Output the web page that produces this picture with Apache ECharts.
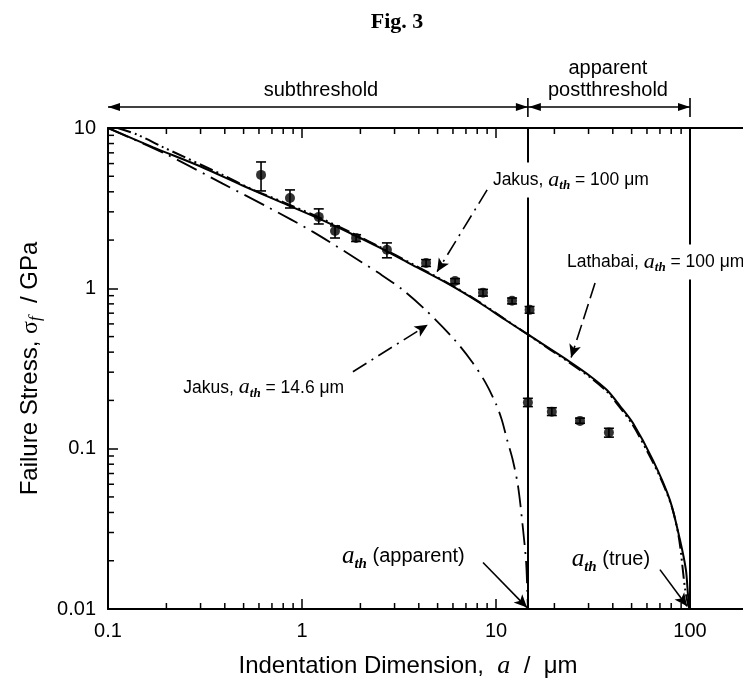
<!DOCTYPE html>
<html>
<head>
<meta charset="utf-8">
<script src="https://cdn.jsdelivr.net/npm/echarts@6.0.0/dist/echarts.min.js"></script>
<style>
  html, body { margin: 0; padding: 0; background: #fff; }
  #chart { width: 743px; height: 690px; }
</style>
</head>
<body>
<div id="chart"></div>
<script>
// measured points, failure stress (GPa) vs indentation size (um)
const ptsX  = [0.615, 0.867, 1.22, 1.48, 1.90, 2.74, 4.36, 6.15, 8.57, 12.1, 14.9, 14.6, 19.4, 27.1, 38.2];
const ptsY  = [5.1, 3.66, 2.79, 2.28, 2.06, 1.74, 1.44, 1.11, 0.94, 0.836, 0.734, 0.194, 0.170, 0.149, 0.126];
const errLo = [4.05, 3.17, 2.52, 2.06, 1.96, 1.55, 1.37, 1.07, 0.895, 0.80, 0.70, 0.183, 0.161, 0.144, 0.118];
const errHi = [6.14, 4.11, 3.13, 2.45, 2.16, 1.92, 1.51, 1.15, 0.985, 0.87, 0.77, 0.206, 0.180, 0.155, 0.134];

// model curves
const lathabai = [
  [0.1, 10], [0.17, 7.6], [0.3, 5.75], [0.5, 4.35], [0.8, 3.4], [1.2, 2.75], [1.9, 2.12],
  [2.5, 1.8], [3.7, 1.4], [5.8, 1.05], [8.27, 0.81], [11.1, 0.639], [15.0, 0.505], [19.0, 0.419],
  [24.1, 0.347], [30.5, 0.284], [37.3, 0.232], [43.6, 0.1845], [50.8, 0.1445], [64.4, 0.0849],
  [78.8, 0.0478], [88.8, 0.0269], [95.3, 0.0175], [97.7, 0.0122], [100, 0.01]
];
const jakus100 = [
  [0.112, 10], [0.141, 9.1], [0.192, 7.6], [0.39, 5.1], [0.54, 4.2], [0.8, 3.45], [1.2, 2.8],
  [1.9, 2.15], [2.5, 1.82], [3.7, 1.42], [5.8, 1.06], [8.3, 0.815], [11, 0.648], [14.6, 0.515],
  [19, 0.415], [24, 0.343], [30.5, 0.279], [37.3, 0.227], [43.6, 0.18], [50.8, 0.14], [60, 0.097],
  [67.6, 0.073], [75, 0.055], [81.7, 0.041], [88, 0.027], [94.2, 0.0135], [98, 0.0105], [100, 0.01]
];
const jakus146 = [
  [0.1, 10], [0.2, 6.85], [0.39, 4.5], [0.67, 3.2], [1.14, 2.25], [2.04, 1.45], [2.5, 1.24],
  [3.3, 0.98], [4.3, 0.74], [6.0, 0.49], [7.5, 0.35], [8.8, 0.26], [10.0, 0.19], [10.7, 0.152],
  [11.4, 0.114], [12.2, 0.085], [13.0, 0.058], [13.8, 0.031], [14.3, 0.0195], [14.5, 0.013], [14.6, 0.01]
];

// thresholds (vertical lines)
const thresholds = [14.6, 100];

// tick labels
const xTicks = [0.1, 1, 10, 100, 1000];
const xTickText = ['0.1', '1', '10', '100', '1000'];
const yTicks = [0.01, 0.1, 1, 10];
const yTickText = ['0.01', '0.1', '1', '10'];
const xMinor = [0.2, 0.3, 0.4, 0.5, 0.6, 0.7, 0.8, 0.9, 2, 3, 4, 5, 6, 7, 8, 9,
  20, 30, 40, 50, 60, 70, 80, 90, 200, 300, 400, 500, 600, 700, 800, 900];
const yMinor = [0.02, 0.03, 0.04, 0.05, 0.06, 0.07, 0.08, 0.09, 0.2, 0.3, 0.4, 0.5, 0.6, 0.7, 0.8, 0.9,
  2, 3, 4, 5, 6, 7, 8, 9];

const SANS = "'Liberation Sans', Arial, Helvetica, sans-serif";
const SERIF = "'Liberation Serif', 'Times New Roman', serif";
// the figure is cropped on the right: the axis runs on past the window to 1000
const GRID = { left: 108, top: 128, width: 776, height: 481, outerBoundsMode: 'none', containLabel: false };

let pick = (ticks, texts) => (v) => {
  let i = ticks.findIndex(t => Math.abs(Math.log10(t) - Math.log10(v)) < 1e-6);
  return i >= 0 ? texts[i] : '';
};

let axisCommon = {
  axisLine: { lineStyle: { color: '#000', width: 2 } },
  axisTick: { inside: true, length: 10, lineStyle: { color: '#000', width: 1.5 } },
  splitLine: { show: false },
  minorTick: { show: false }
};

let chart = echarts.init(document.getElementById('chart'), null, { renderer: 'canvas' });

let option = {
  animation: false,
  backgroundColor: '#fff',
  grid: GRID,
  xAxis: [
    Object.assign({
      type: 'log', min: 0.1, max: 1000, position: 'bottom',
      axisLabel: { color: '#000', fontSize: 20, fontFamily: SANS, margin: 12, formatter: pick(xTicks, xTickText) }
    }, axisCommon),
    Object.assign({
      type: 'log', min: 0.1, max: 1000, position: 'top',
      axisLabel: { show: false }
    }, axisCommon)
  ],
  yAxis: Object.assign({
    type: 'log', min: 0.01, max: 10,
    axisLabel: { color: '#000', fontSize: 20, fontFamily: SANS, margin: 12, formatter: pick(yTicks, yTickText) },
    name: 'Failure Stress, {s|σ}{f|f}  / GPa',
    nameLocation: 'middle',
    nameGap: 64,
    nameRotate: 90,
    nameTextStyle: {
      color: '#000', fontSize: 24, fontFamily: SANS,
      rich: {
        s: { fontSize: 24, fontFamily: SERIF, color: '#000' },
        f: { fontSize: 17, fontFamily: SERIF, fontStyle: 'italic', color: '#000', padding: [10, 0, 0, 0] }
      }
    }
  }, axisCommon),
  series: [
    {
      name: 'Lathabai',
      type: 'line',
      data: lathabai,
      showSymbol: false,
      smooth: 0.3,
      lineStyle: { color: '#000', width: 2 },
      z: 3,
      markLine: {
        silent: true,
        symbol: 'none',
        label: { show: false },
        lineStyle: { color: '#000', width: 2, type: 'solid' },
        data: thresholds.map(v => ({ xAxis: v }))
      }
    },
    {
      name: 'Jakus 100',
      type: 'line',
      data: jakus100,
      showSymbol: false,
      smooth: 0.3,
      lineStyle: { color: '#000', width: 2, type: [14, 4, 2, 4, 2, 4] },
      z: 3
    },
    {
      name: 'Jakus 14.6',
      type: 'line',
      data: jakus146,
      showSymbol: false,
      smooth: 0.3,
      lineStyle: { color: '#000', width: 1.8, type: [22, 7, 2, 7] },
      z: 3,
      markLine: {
        silent: true,
        symbol: ['none', 'arrow'],
        symbolSize: [9, 13],
        label: { show: false },
        lineStyle: { color: '#000', width: 1.6, type: 'solid' },
        data: [
          [{ coord: [9.0, 4.11], lineStyle: { type: [16, 6, 2, 6] } }, { coord: [4.97, 1.27] }],
          [{ coord: [32.4, 1.08], lineStyle: { type: [16, 6] } }, { coord: [24.4, 0.37] }],
          [{ coord: [1.83, 0.302], lineStyle: { type: [16, 6, 2, 6] } }, { coord: [4.45, 0.593] }],
          [{ coord: [8.57, 0.0195] }, { coord: [14.45, 0.0102] }],
          [{ coord: [70.0, 0.0176] }, { coord: [96.6, 0.0104] }]
        ]
      }
    },
    {
      name: 'err',
      type: 'custom',
      data: ptsX.map((x, i) => [x, errLo[i], errHi[i]]),
      encode: { x: 0, y: [1, 2] },
      z: 4,
      renderItem: (params, api) => {
        let lo = api.coord([api.value(0), api.value(1)]);
        let hi = api.coord([api.value(0), api.value(2)]);
        let st = { stroke: '#000', lineWidth: 1.6 };
        return {
          type: 'group',
          children: [
            { type: 'line', shape: { x1: lo[0], y1: lo[1], x2: hi[0], y2: hi[1] }, style: st },
            { type: 'line', shape: { x1: lo[0] - 5, y1: lo[1], x2: lo[0] + 5, y2: lo[1] }, style: st },
            { type: 'line', shape: { x1: hi[0] - 5, y1: hi[1], x2: hi[0] + 5, y2: hi[1] }, style: st }
          ]
        };
      }
    },
    {
      name: 'data',
      type: 'scatter',
      data: ptsX.map((x, i) => [x, ptsY[i]]),
      symbol: 'circle',
      symbolSize: 10,
      itemStyle: { color: '#000' },
      z: 5
    },
    {
      name: 'xminor',
      type: 'custom',
      data: xMinor.map(v => [v, 1]),
      silent: true,
      renderItem: (params, api) => {
        let b = api.coord([api.value(0), 0.01]);
        let t = api.coord([api.value(0), 10]);
        let st = { stroke: '#000', lineWidth: 1.5 };
        return {
          type: 'group',
          children: [
            { type: 'line', shape: { x1: b[0], y1: b[1], x2: b[0], y2: b[1] - 6 }, style: st },
            { type: 'line', shape: { x1: t[0], y1: t[1], x2: t[0], y2: t[1] + 6 }, style: st }
          ]
        };
      }
    },
    {
      name: 'yminor',
      type: 'custom',
      data: yMinor.map(v => [1, v]),
      silent: true,
      renderItem: (params, api) => {
        let p = api.coord([0.1, api.value(1)]);
        return { type: 'line', shape: { x1: p[0], y1: p[1], x2: p[0] + 6, y2: p[1] }, style: { stroke: '#000', lineWidth: 1.5 } };
      }
    }
  ]
};

chart.setOption(option);

// annotations placed from data coordinates
let P = (x, y) => chart.convertToPixel({ xAxisIndex: 0, yAxisIndex: 0 }, [x, y]);
let xLeft = P(0.1, 10)[0], xApp = P(14.6, 10)[0], xTrue = P(100, 10)[0];
let yArr = GRID.top - 21;

let head = (x, y, dir) => ({
  type: 'polygon', z: 100,
  shape: { points: [[x, y], [x - dir * 12, y - 4], [x - dir * 12, y + 4]] },
  style: { fill: '#000' }
});
let seg = (x1, y1, x2, y2, w) => ({
  type: 'line', z: 100,
  shape: { x1: x1, y1: y1, x2: x2, y2: y2 },
  style: { stroke: '#000', lineWidth: w || 1.6 }
});
let richFor = (size) => ({
  a: { fontFamily: SERIF, fontStyle: 'italic', fontSize: Math.round(size * 1.25), fill: '#000' },
  th: { fontFamily: SERIF, fontStyle: 'italic', fontWeight: 'bold', fontSize: Math.round(size * 0.75), fill: '#000', padding: [Math.round(size * 0.7), 0, 0, 0] }
});
let label = (txt, pos, size) => {
  let p = P(pos[0], pos[1]);
  size = size || 17.5;
  return {
    type: 'text', z: 100, x: p[0], y: p[1],
    style: {
      text: txt, rich: richFor(size), fontFamily: SANS, fontSize: size, fill: '#000',
      align: 'left', verticalAlign: 'middle', textAlign: 'left', textVerticalAlign: 'middle',
      backgroundColor: '#fff', padding: [5, 3]
    }
  };
};
let plain = (txt, x, y, size, family, weight) => ({
  type: 'text', z: 100, x: x, y: y,
  style: {
    text: txt, fontFamily: family || SANS, fontSize: size, fontWeight: weight || 'normal', fill: '#000',
    align: 'center', verticalAlign: 'middle', textAlign: 'center', textVerticalAlign: 'middle'
  }
});

chart.setOption({
  graphic: [
    plain('Fig. 3', 397, 22, 22, SERIF, 'bold'),
    // regime arrows above the plot
    seg(xLeft, yArr, xApp, yArr),
    head(xLeft, yArr, -1),
    head(xApp, yArr, 1),
    seg(xApp, yArr, xTrue, yArr),
    head(xApp + 1, yArr, -1),
    head(xTrue, yArr, 1),
    seg(xApp, yArr - 9, xApp, yArr + 10),
    seg(xTrue, yArr - 9, xTrue, yArr + 10),
    plain('subthreshold', (xLeft + xApp) / 2 + 3, yArr - 17, 20),
    plain('apparent', (xApp + xTrue) / 2 - 1, yArr - 39, 20),
    plain('postthreshold', (xApp + xTrue) / 2 - 1, yArr - 17, 20),
    // curve labels
    label('Jakus, {a|a}{th|th} = 100 μm', [9.3, 4.74]),
    label('Lathabai, {a|a}{th|th} = 100 μm', [22.4, 1.46]),
    label('Jakus, {a|a}{th|th} = 14.6 μm', [0.236, 0.24]),
    label('{a|a}{th|th} (apparent)', [1.55, 0.0212], 20),
    label('{a|a}{th|th} (true)', [23.7, 0.0203], 20),
    // x axis title
    {
      type: 'text', z: 100, x: 408, y: 666,
      style: {
        text: 'Indentation Dimension,  {i|a}  /  μm',
        rich: { i: { fontFamily: SERIF, fontStyle: 'italic', fontSize: 26, fill: '#000' } },
        fontFamily: SANS, fontSize: 24, fill: '#000',
        align: 'center', verticalAlign: 'middle', textAlign: 'center', textVerticalAlign: 'middle'
      }
    }
  ]
});
</script>
</body>
</html>
